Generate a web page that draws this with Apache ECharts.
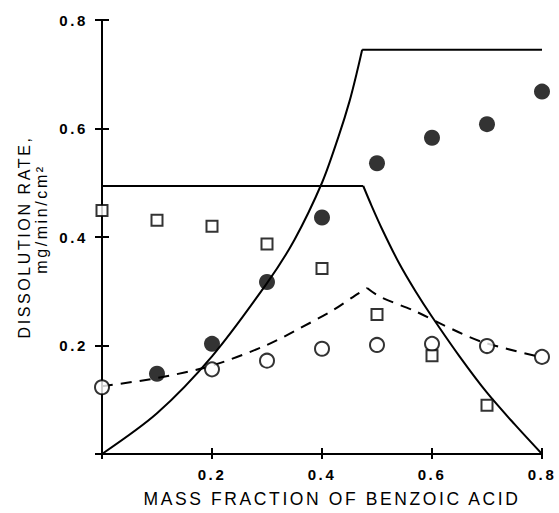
<!DOCTYPE html>
<html>
<head>
<meta charset="utf-8">
<title>Dissolution rate vs mass fraction of benzoic acid</title>
<script src="https://cdn.jsdelivr.net/npm/echarts@6/dist/echarts.min.js"></script>
<style>
  html, body { margin: 0; padding: 0; background: #fff; }
  #main { width: 559px; height: 513px; }
  /* the original lettering is wide-set */
  #main text { letter-spacing: 2.6px; }
</style>
</head>
<body>
<div id="main"></div>
<script>
// tick labels
var xTicks = [0.2, 0.4, 0.6, 0.8];
var yTicks = [0.2, 0.4, 0.6, 0.8];

// measured points (x = mass fraction)
var filledPts = [[0.1, 0.148], [0.2, 0.203], [0.3, 0.317], [0.4, 0.436], [0.5, 0.536], [0.6, 0.583], [0.7, 0.608], [0.8, 0.668]];
var openPts = [[0, 0.123], [0.2, 0.156], [0.3, 0.172], [0.4, 0.194], [0.5, 0.201], [0.6, 0.203], [0.7, 0.199], [0.8, 0.179]];
var squarePts = [[0, 0.449], [0.1, 0.431], [0.2, 0.420], [0.3, 0.387], [0.4, 0.342], [0.5, 0.257], [0.6, 0.181], [0.7, 0.090]];

// model curves
var curveUpRise = [[0, 0], [0.1, 0.075], [0.2, 0.18], [0.3, 0.315], [0.35, 0.395], [0.4, 0.5],
  [0.43, 0.585], [0.45, 0.65], [0.465, 0.71], [0.473, 0.745]];
var curveUpFlat = [[0.473, 0.745], [0.8, 0.745]];
var curveDownFlat = [[0, 0.494], [0.475, 0.494]];
var curveDownFall = [[0.475, 0.494], [0.49, 0.458], [0.51, 0.413], [0.54, 0.352], [0.57, 0.3],
  [0.6, 0.253], [0.65, 0.18], [0.7, 0.113], [0.75, 0.055], [0.8, 0]];
var dashRise = [[0, 0.125], [0.1, 0.14], [0.2, 0.163], [0.3, 0.201], [0.36, 0.232], [0.42, 0.265],
  [0.46, 0.292], [0.482, 0.306]];
var dashFall = [[0.482, 0.306], [0.505, 0.29], [0.57, 0.263], [0.62, 0.238], [0.69, 0.207], [0.8, 0.178]];

var ink = '#000';
var font = 'Liberation Sans';

function lineSeries(data, smooth, dashed) {
  return {
    type: 'line', data: data, symbol: 'none', smooth: smooth, z: 2,
    lineStyle: { color: ink, width: 2, type: dashed ? [11, 8] : 'solid' }
  };
}

var myChart = echarts.init(document.getElementById('main'), null, { renderer: 'svg' });

var option = {
  animation: false,
  backgroundColor: '#fff',
  grid: { left: 102, right: 17, top: 20, bottom: 51 },
  xAxis: [{
    type: 'value', min: 0, max: 0.8, interval: 0.2,
    axisLine: { lineStyle: { color: ink, width: 2 } },
    axisTick: { length: 5, lineStyle: { color: ink, width: 2 } },
    axisLabel: {
      customValues: xTicks, margin: 13, color: ink,
      fontFamily: font, fontSize: 15, fontWeight: 'bold',
      formatter: function (v) { return v.toFixed(1); }
    },
    splitLine: { show: false },
    name: 'MASS FRACTION OF BENZOIC ACID',
    nameLocation: 'middle', nameGap: 36,
    nameTextStyle: { color: ink, fontFamily: font, fontSize: 17.5, padding: [0, 0, 0, 20] }
  }, {
    type: 'value', min: 0, max: 0.8, interval: 0.2, position: 'bottom',
    axisLine: { show: false },
    axisTick: { inside: true, length: 6, lineStyle: { color: ink, width: 2 } },
    axisLabel: { show: false }, splitLine: { show: false }
  }],
  yAxis: [{
    type: 'value', min: 0, max: 0.8, interval: 0.2,
    axisLine: { lineStyle: { color: ink, width: 2 } },
    axisTick: { length: 7, lineStyle: { color: ink, width: 2 } },
    axisLabel: {
      customValues: yTicks, margin: 14, color: ink,
      fontFamily: font, fontSize: 15, fontWeight: 'bold',
      formatter: function (v) { return v.toFixed(1); }
    },
    splitLine: { show: false },
    name: '{a|DISSOLUTION RATE,}\n{b|mg/min/cm²}',
    nameLocation: 'middle', nameGap: 52, nameRotate: 90,
    nameTextStyle: {
      color: ink, fontFamily: font,
      rich: {
        a: { fontSize: 16, lineHeight: 18, fontFamily: font, color: ink },
        b: { fontSize: 16, lineHeight: 17, fontFamily: font, color: ink, padding: [0, 0, 0, 36] }
      }
    }
  }, {
    type: 'value', min: 0, max: 0.8, interval: 0.2, position: 'left',
    axisLine: { show: false },
    axisTick: { inside: true, length: 7, lineStyle: { color: ink, width: 2 } },
    axisLabel: { show: false }, splitLine: { show: false }
  }],
  series: [
    lineSeries(curveUpRise, 0.3, false),
    lineSeries(curveUpFlat, false, false),
    lineSeries(curveDownFlat, false, false),
    lineSeries(curveDownFall, 0.3, false),
    lineSeries(dashRise, 0.3, true),
    lineSeries(dashFall, 0.3, true),
    {
      type: 'scatter', data: filledPts, symbol: 'circle', symbolSize: 16, z: 5,
      itemStyle: { color: ink }
    },
    {
      type: 'scatter', data: openPts, symbol: 'circle', symbolSize: 14, z: 5,
      itemStyle: { color: '#fff', borderColor: ink, borderWidth: 2 }
    },
    {
      type: 'scatter', data: squarePts, symbol: 'rect', symbolSize: 11, z: 5,
      itemStyle: { color: '#fff', borderColor: ink, borderWidth: 2 }
    }
  ]
};
myChart.setOption(option);
</script>
</body>
</html>
